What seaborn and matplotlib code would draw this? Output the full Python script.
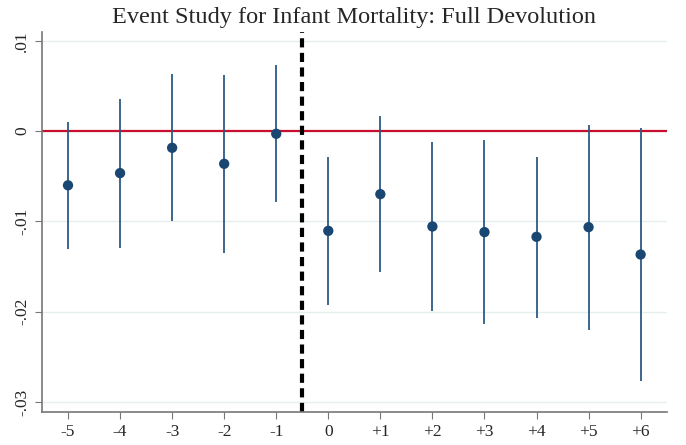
import matplotlib
matplotlib.use("Agg")
import matplotlib.pyplot as plt
import numpy as np
import pandas as pd
import seaborn as sns

# event time relative to full devolution
event_time = [-5, -4, -3, -2, -1, 0, 1, 2, 3, 4, 5, 6]
tick_labels = ["-5", "-4", "-3", "-2", "-1", "0", "+1", "+2", "+3", "+4", "+5", "+6"]
coef = [-0.0060, -0.00465, -0.00185, -0.00362, -0.0003, -0.01104,
        -0.00698, -0.01056, -0.01118, -0.0117, -0.01063, -0.01366]
ci_low = [-0.0130, -0.01292, -0.00997, -0.01344, -0.00786, -0.01923,
          -0.01558, -0.01993, -0.0214, -0.02067, -0.02196, -0.02765]
ci_high = [0.0010, 0.0036, 0.0063, 0.0062, 0.0073, -0.00288,
           0.00166, -0.00118, -0.00096, -0.00284, 0.0007, 0.0003]
y_ticks = [0.01, 0.0, -0.01, -0.02, -0.03]
y_tick_labels = [".01", "0", "-.01", "-.02", "-.03"]

df = pd.DataFrame({"t": event_time, "coef": coef, "lo": ci_low, "hi": ci_high})

sns.set_style("white")
plt.rcParams["font.family"] = ["Liberation Serif", "DejaVu Serif"]

fig = plt.figure(figsize=(6.86, 4.45), dpi=100)
ax = fig.add_axes([0.0612, 0.0735, 0.9106, 0.8553])

for y in y_ticks:
    ax.axhline(y, color="#e6eeef", lw=1.0, zorder=0)

ax.axhline(0, color="#c8102e", lw=1.6, zorder=1)
ax.axvline(-0.5, color="black", lw=3.0, ls=(0, (2.2, 1.3)), zorder=2)

ax.vlines(df["t"], df["lo"], df["hi"], color="#2d5a86", lw=1.3, zorder=3)
sns.scatterplot(data=df, x="t", y="coef", ax=ax, color="#1a4672", s=55,
                edgecolor="none", zorder=4, legend=False)

ax.set_xlim(-5.5, 6.5)
ax.set_ylim(-0.03112, 0.0110)
ax.set_xticks(event_time)
ax.set_xticklabels(tick_labels)
ax.set_yticks(y_ticks)
ax.set_yticklabels(y_tick_labels, rotation=90, va="center")
ax.tick_params(axis="both", labelsize=12.5, length=5, color="#777777",
               direction="out", left=True, bottom=True)
ax.set_xlabel("")
ax.set_ylabel("")
for side in ["top", "right"]:
    ax.spines[side].set_visible(False)
for side in ["left", "bottom"]:
    ax.spines[side].set_color("#777777")
    ax.spines[side].set_linewidth(1.2)

ax.set_title("Event Study for Infant Mortality: Full Devolution", fontsize=17.5, pad=6)

fig.savefig("out.png", dpi=100)
